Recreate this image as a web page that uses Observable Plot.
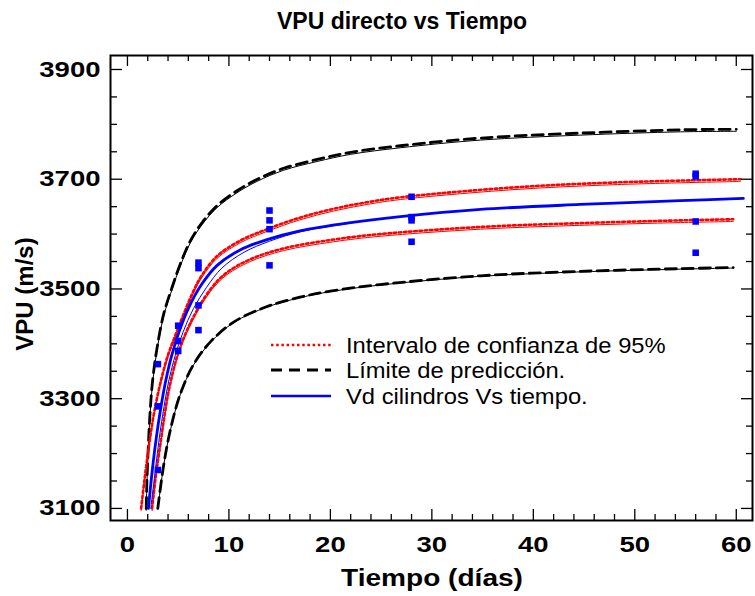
<!DOCTYPE html>
<html><head><meta charset="utf-8">
<script src="https://cdn.jsdelivr.net/npm/d3@7"></script>
<script src="https://cdn.jsdelivr.net/npm/@observablehq/plot@0.6"></script>
<style>
body{margin:0;background:#fff;}
#wrap{position:relative;width:755px;height:596px;font-family:"Liberation Sans",Arial,sans-serif;}
#wrap > svg{position:absolute;left:0;top:0;}
#overlay{pointer-events:none;}
</style></head><body><div id="wrap"></div>
<script>
// ---- data ----
const titleText = "VPU directo vs Tiempo";
const xLabel = "Tiempo (días)";
const yLabel = "VPU (m/s)";
const xTickLabels = [0, 10, 20, 30, 40, 50, 60];
const yTickLabels = [3100, 3300, 3500, 3700, 3900];
const legendLabels = ["Intervalo de confianza de 95%", "Límite de predicción.", "Vd cilindros Vs tiempo."];

// observed points (age in days, VPU m/s)
const obsT = [3, 3, 3, 5, 5, 5, 7, 7, 7, 7, 14, 14, 14, 14, 28, 28, 28, 28, 56, 56, 56, 56];
const obsV = [3170, 3286, 3363, 3433, 3405, 3387, 3470, 3425, 3548, 3538, 3643, 3625, 3609, 3543, 3668, 3631, 3625, 3586, 3710, 3705, 3623, 3566];

// fitted curve
const fitCurve = [[2.07,3100],[2.45,3170],[2.85,3230],[3.3,3285],[3.8,3335],[4.35,3378],[5.05,3420],[6.04,3466],[7.3,3508],[8.84,3543],[11.1,3571],[13.76,3590],[17,3606],[22,3621],[26.9,3632],[34.8,3645],[44.6,3654],[54.5,3661],[60.7,3665]];
const fitThin = [[2.3,3100],[2.75,3170],[3.15,3230],[3.6,3285],[4.1,3335],[4.7,3378],[5.45,3420],[6.5,3464],[7.8,3503],[9.3,3538],[11.5,3567],[14,3587],[17,3604],[22,3620]];
// 95% confidence band
const ciUpper = [[1.35,3100],[1.67,3151],[2.1,3212],[2.6,3272],[3.3,3333],[4.0,3380],[4.73,3416],[5.4,3448],[6.3,3488],[7.3,3524],[8.84,3560],[11.1,3588],[13.76,3609],[17,3630],[20.3,3646],[23.6,3658],[26.9,3667],[38,3685],[47.9,3694],[60.4,3700]];
const ciLower = [[2.43,3100],[2.8,3160],[3.25,3218],[3.7,3275],[4.15,3322],[5.05,3386],[6.36,3444],[8.2,3500],[9.8,3530],[12.1,3554],[15.4,3574],[20.3,3590],[24.9,3600],[34.8,3613],[44.6,3620],[54.5,3625],[59.7,3627]];
// prediction limits
const predUpper = [[1.85,3100],[1.92,3150],[2.05,3210],[2.22,3272],[2.48,3333],[2.93,3394],[3.58,3455],[4.4,3503],[5.22,3546],[6.21,3588],[7.36,3621],[8.84,3652],[10.8,3679],[12.8,3700],[15.4,3720],[18.7,3736],[22,3749],[26.9,3761],[34.8,3775],[44.6,3784],[54.5,3790],[60,3791]];
const predLower = [[2.99,3100],[3.58,3180],[4.24,3244],[5.2,3308],[6.5,3362],[8.2,3404],[10.5,3440],[13.76,3468],[17,3485],[20,3496],[24.9,3508],[34.8,3524],[44.6,3532],[54.5,3537],[59.7,3539]];

// ---- layout ----
const W = 755, H = 596;
const mL = 110, mR = 3, mT = 55, mB = 76;
const fw = W - mL - mR, fh = H - mT - mB;
const xDomain = [-1.67, 61.6], yDomain = [3078, 3925.5];
const xMinor = d3.range(0, 61.01, 2).filter(d => d % 10 !== 0);
const yMinor = d3.range(3100, 3900.1, 50).filter(d => d % 200 !== 100);
const fam = '"Liberation Sans", Arial, sans-serif';
const RED = "#ff0000", BLUE = "#0000ff";
const X = d => d[0], Y = d => d[1];
const obs = obsT.map((t, i) => ({t, v: obsV[i]}));
const DASH = "11,6", DOT = "2.5,2.7";

const MAJ = 11, MIN = 6;
const crv = "catmull-rom";
const chart = Plot.plot({
  width: W, height: H,
  marginLeft: mL, marginRight: mR, marginTop: mT, marginBottom: mB,
  style: {fontFamily: fam, background: "white", color: "black"},
  x: {domain: xDomain, axis: null},
  y: {domain: yDomain, axis: null},
  marks: [
    // curves
    Plot.line(predUpper, {x: X, y: Y, stroke: "black", strokeWidth: 1, curve: crv, clip: true, dy: 2}),
    Plot.line(predUpper, {x: X, y: Y, stroke: "black", strokeWidth: 2.8, strokeDasharray: DASH, curve: crv, clip: true}),
    Plot.line(predLower, {x: X, y: Y, stroke: "black", strokeWidth: 1, curve: crv, clip: true, dy: 0.5}),
    Plot.line(predLower, {x: X, y: Y, stroke: "black", strokeWidth: 2.8, strokeDasharray: DASH, curve: crv, clip: true}),
    Plot.line(ciUpper, {x: X, y: Y, stroke: RED, strokeWidth: 1, curve: crv, clip: true, dy: 2.2}),
    Plot.line(ciUpper, {x: X, y: Y, stroke: RED, strokeWidth: 2.6, strokeDasharray: DOT, curve: crv, clip: true}),
    Plot.line(ciLower, {x: X, y: Y, stroke: RED, strokeWidth: 1, curve: crv, clip: true, dy: 2.2}),
    Plot.line(ciLower, {x: X, y: Y, stroke: RED, strokeWidth: 2.6, strokeDasharray: DOT, curve: crv, clip: true}),
    Plot.line(fitThin, {x: X, y: Y, stroke: BLUE, strokeWidth: 1, curve: crv, clip: true}),
    Plot.line(fitCurve, {x: X, y: Y, stroke: BLUE, strokeWidth: 2.8, curve: crv, clip: true}),
    // observations
    Plot.dot(obs, {x: "t", y: "v", symbol: "square", r: 3.7, fill: BLUE, stroke: "none"}),
    // frame and inward ticks
    Plot.frame({stroke: "black", strokeWidth: 2}),
    Plot.tickY(yTickLabels, {y: d => d, insetRight: fw - MAJ - 1, stroke: "black", strokeWidth: 1.3}),
    Plot.tickY(yMinor, {y: d => d, insetRight: fw - MIN - 1, stroke: "black", strokeWidth: 1.3}),
    Plot.tickY(yTickLabels, {y: d => d, insetLeft: fw - MAJ, stroke: "black", strokeWidth: 1.3}),
    Plot.tickY(yMinor, {y: d => d, insetLeft: fw - MIN, stroke: "black", strokeWidth: 1.3}),
    Plot.tickX(xTickLabels, {x: d => d, insetTop: fh - MAJ, stroke: "black", strokeWidth: 1.3}),
    Plot.tickX(xMinor, {x: d => d, insetTop: fh - MIN, stroke: "black", strokeWidth: 1.3}),
    Plot.tickX(xTickLabels, {x: d => d, insetBottom: fh - MAJ, stroke: "black", strokeWidth: 1.3}),
    Plot.tickX(xMinor, {x: d => d, insetBottom: fh - MIN, stroke: "black", strokeWidth: 1.3}),
    // tick labels
    Plot.axisY(yTickLabels, {tickSize: 0, tickPadding: 10, fontSize: 22, fontWeight: "bold", label: null, tickFormat: d => String(d)}),
    Plot.axisX(xTickLabels, {tickSize: 0, tickPadding: 16, fontSize: 22, fontWeight: "bold", label: null, tickFormat: d => String(d)})
  ]
});
const wrap = document.getElementById("wrap");
wrap.appendChild(chart);

function stretch(el, k) {
  const L = el.getComputedTextLength();
  el.setAttribute("textLength", (L * k).toFixed(1));
  el.setAttribute("lengthAdjust", "spacingAndGlyphs");
}
chart.querySelectorAll('g[aria-label$="tick label"] text').forEach(t => stretch(t, 1.25));

// overlay: titles and legend (inside the plot frame)
const ns = "http://www.w3.org/2000/svg";
const ov = document.createElementNS(ns, "svg");
ov.setAttribute("id", "overlay");
ov.setAttribute("width", W); ov.setAttribute("height", H);
wrap.appendChild(ov);
function addText(str, attrs, k) {
  const t = document.createElementNS(ns, "text");
  t.setAttribute("font-family", fam);
  t.setAttribute("fill", "black");
  for (const [a, v] of Object.entries(attrs)) t.setAttribute(a, v);
  t.textContent = str;
  ov.appendChild(t);
  if (k) stretch(t, k);
  return t;
}
addText(titleText, {x: 402, y: 29, "text-anchor": "middle", "font-size": 23, "font-weight": "bold"});
addText(xLabel, {x: 432, y: 586, "text-anchor": "middle", "font-size": 23, "font-weight": "bold"}, 1.22);
addText(yLabel, {x: 0, y: 0, "text-anchor": "middle", "font-size": 24, "font-weight": "bold",
  transform: "translate(33,294) rotate(-90)"});

const styles = [
  {stroke: RED, width: 2.6, dash: DOT},
  {stroke: "black", width: 2.8, dash: "11,7"},
  {stroke: BLUE, width: 2.6, dash: null}
];
const rowY = [345, 370, 396];
legendLabels.forEach((lab, i) => {
  const ln = document.createElementNS(ns, "line");
  ln.setAttribute("x1", 271); ln.setAttribute("x2", 331);
  ln.setAttribute("y1", rowY[i]); ln.setAttribute("y2", rowY[i]);
  ln.setAttribute("stroke", styles[i].stroke);
  ln.setAttribute("stroke-width", styles[i].width);
  if (styles[i].dash) ln.setAttribute("stroke-dasharray", styles[i].dash);
  ov.appendChild(ln);
  addText(lab, {x: 346, y: rowY[i] + 8, "font-size": 22}, 1.08);
});
</script></body></html>
